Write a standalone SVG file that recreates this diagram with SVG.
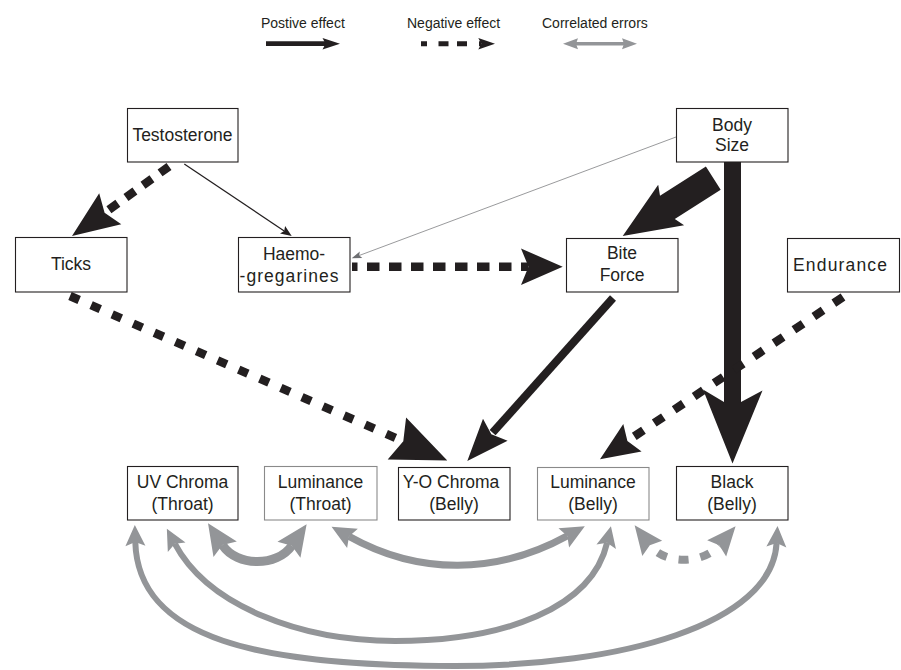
<svg xmlns="http://www.w3.org/2000/svg" width="901" height="670" viewBox="0 0 901 670">
<defs>
<style>
.box{fill:#fff;stroke:#231f20;stroke-width:1.1}
.box.lt{stroke:#8a8a8a}
text{font-family:"Liberation Sans",Arial,Helvetica,sans-serif;fill:#231f20}
.lbl{font-size:17.5px;text-anchor:middle}
.leg{font-size:14px}
.neg{fill:none;stroke:#231f20;stroke-width:8.5}
.pos{fill:none;stroke:#231f20}
.head{fill:#231f20}
.cor{fill:none;stroke:#939598}
</style>
<marker id="ga" markerUnits="userSpaceOnUse" orient="auto-start-reverse" refX="4" refY="0" markerWidth="40" markerHeight="40" overflow="visible"><path d="M0,-10 L21,0 L0,10 L4,0Z" fill="#939598"/></marker>
<marker id="gc" markerUnits="userSpaceOnUse" orient="auto-start-reverse" refX="5" refY="0" markerWidth="40" markerHeight="40" overflow="visible"><path d="M0,-14 L31,0 L0,14 L5,0Z" fill="#939598"/></marker>
<marker id="gd" markerUnits="userSpaceOnUse" orient="auto-start-reverse" refX="4" refY="0" markerWidth="40" markerHeight="40" overflow="visible"><path d="M0,-11 L24,0 L0,11 L4,0Z" fill="#939598"/></marker>
<marker id="ge" markerUnits="userSpaceOnUse" orient="auto-start-reverse" refX="4" refY="0" markerWidth="40" markerHeight="40" overflow="visible"><path d="M0,-12.5 L29,0 L0,12.5 L4,0Z" fill="#939598"/></marker>
<marker id="gl" markerUnits="userSpaceOnUse" orient="auto-start-reverse" refX="2" refY="0" markerWidth="20" markerHeight="20" overflow="visible"><path d="M0,-5.5 L15,0 L0,5.5 L2,0Z" fill="#939598"/></marker>
</defs>
<rect width="901" height="670" fill="#fff"/>

<g id="legend">
<text class="leg" x="261" y="27.5">Postive effect</text>
<line class="pos" x1="266" y1="43.7" x2="326" y2="43.7" stroke-width="4.7"/>
<polygon class="head" points="340,43.7 322.5,38 325.5,43.7 322.5,49.4"/>
<text class="leg" x="407" y="27.5">Negative effect</text>
<line x1="421" y1="43.7" x2="481" y2="43.7" stroke="#231f20" stroke-width="5" stroke-dasharray="6 11.5 10 8.5 10 12"/>
<polygon class="head" points="495,43.7 478.3,38 481.3,43.7 478.3,49.4"/>
<text class="leg" x="542" y="27.5">Correlated errors</text>
<path class="cor" d="M576,43.7 H624" stroke-width="3.5" marker-start="url(#gl)" marker-end="url(#gl)"/>
</g>

<g id="connectors">
<!-- Testosterone -> Ticks (negative) -->
<line class="neg" x1="169" y1="166.5" x2="104.6" y2="212.8" stroke-dasharray="11 10"/>
<polygon class="head" points="72,236 99.2,193.2 104.6,212.8 121.3,224.2"/>
<!-- Testosterone -> Haemogregarines (positive, thin) -->
<line class="pos" x1="184.3" y1="164" x2="284.2" y2="231" stroke-width="1.3"/>
<polygon class="head" points="291.7,236 285.1,226.1 284.2,231 280.05,233.6"/>
<!-- Body Size -> Haemogregarines (very thin) -->
<line x1="676" y1="137" x2="359.2" y2="255.5" stroke="#6d6e71" stroke-width="0.7"/>
<polygon points="351.7,258.3 359.8,251.5 359.2,255.5 362.3,258.1" fill="#6d6e71"/>
<!-- Haemogregarines -> Bite Force (negative) -->
<line class="neg" x1="352" y1="266.7" x2="528.5" y2="266.7" stroke-dasharray="12.5 9.5" stroke-dashoffset="7"/>
<polygon class="head" points="562.7,266.7 521,248.5 528.5,266.7 521,285"/>
<!-- Body Size -> Bite Force (positive, heavy) -->
<polygon class="head" points="622.7,236 658.2,184.8 660,195.8 705.9,166.5 720.7,189.7 674.8,219 684.1,225.2"/>
<!-- Body Size -> Black (Belly) (positive, heavy) -->
<polygon class="head" points="724,162 741,162 741,402 762.5,390.5 732.5,463.5 703,389.5 724,402"/>
<!-- Ticks -> Y-O Chroma (negative) -->
<line class="neg" x1="70" y1="296" x2="403.3" y2="441.3" stroke-width="9" stroke-dasharray="10 13"/>
<polygon class="head" points="447.3,460.5 406.1,417.4 403.3,441.3 387.7,459.6"/>
<!-- Bite Force -> Y-O Chroma (positive) -->
<line class="pos" x1="613" y1="298" x2="492.6" y2="432.7" stroke-width="8"/>
<polygon class="head" points="467.3,461 483,418.7 491.3,434.2 507.6,440.7"/>
<!-- Endurance -> Luminance (Belly) (negative) -->
<line class="neg" x1="843" y1="297" x2="627.4" y2="441" stroke-dasharray="11 13"/>
<polygon class="head" points="600,459.3 623.3,423.9 627.4,441 641.6,451.4"/>

<!-- correlated errors -->
<path class="cor" stroke-width="6" d="M135.3,542 C138,640 260,666 455,666 C620,666 772,625 776.6,543" marker-start="url(#ga)" marker-end="url(#ga)"/>
<path class="cor" stroke-width="6" d="M174.8,543.7 C207.6,605.6 300,641 395,641 C505,641 592,608 607.1,542.8" marker-start="url(#ga)" marker-end="url(#ga)"/>
<path class="cor" stroke-width="9" d="M222.4,545 C237,567 277,567 291.8,545.7" marker-start="url(#gc)" marker-end="url(#gc)"/>
<path class="cor" stroke-width="7" d="M349,536.4 C418.8,575.5 497,574.5 567.3,535.9" marker-start="url(#gd)" marker-end="url(#gd)"/>
<path class="cor" stroke-width="8" stroke-dasharray="10 12" stroke-dashoffset="11" d="M649.8,545.2 C665,565.1 703,564.3 719.3,545.3" marker-start="url(#ge)" marker-end="url(#ge)"/>
</g>

<g id="testosterone"><rect class="box" x="127.5" y="108.5" width="110.5" height="53.5"/><text class="lbl" x="182.5" y="140.5">Testosterone</text></g>
<g id="body-size"><rect class="box" x="676.5" y="108.5" width="111.5" height="53.5"/><text class="lbl" x="732" y="130.5">Body</text><text class="lbl" x="732" y="151">Size</text></g>
<g id="ticks"><rect class="box" x="15.5" y="237.5" width="111.5" height="54.5"/><text class="lbl" x="71" y="270">Ticks</text></g>
<g id="haemogregarines"><rect class="box" x="238.5" y="237.5" width="111.5" height="54.5"/><text class="lbl" x="294" y="260">Haemo-</text><text class="lbl" x="289" y="281.5" textLength="99" lengthAdjust="spacing">-gregarines</text></g>
<g id="bite-force"><rect class="box" x="566.5" y="238.5" width="111.5" height="53.5"/><text class="lbl" x="622" y="259">Bite</text><text class="lbl" x="622" y="280.5">Force</text></g>
<g id="endurance"><rect class="box" x="787.5" y="238.5" width="112" height="53.5"/><text class="lbl" x="840" y="270.5" textLength="94" lengthAdjust="spacing">Endurance</text></g>
<g id="uv-chroma-throat"><rect class="box" x="127.5" y="466.5" width="110.5" height="53.5"/><text class="lbl" x="182.5" y="488">UV Chroma</text><text class="lbl" x="182.5" y="509.5">(Throat)</text></g>
<g id="luminance-throat"><rect class="box lt" x="264.5" y="466.5" width="112.5" height="53.5"/><text class="lbl" x="320.5" y="488">Luminance</text><text class="lbl" x="320.5" y="509.5">(Throat)</text></g>
<g id="yo-chroma-belly"><rect class="box" x="398.5" y="467.5" width="111.5" height="52.5"/><text class="lbl" x="451" y="488">Y-O Chroma</text><text class="lbl" x="454" y="509.5">(Belly)</text></g>
<g id="luminance-belly"><rect class="box lt" x="537.5" y="467.5" width="111.5" height="52.5"/><text class="lbl" x="593" y="488">Luminance</text><text class="lbl" x="593" y="509.5">(Belly)</text></g>
<g id="black-belly"><rect class="box" x="676.5" y="466.5" width="111.5" height="53.5"/><text class="lbl" x="732" y="488">Black</text><text class="lbl" x="732" y="509.5">(Belly)</text></g>
</svg>
